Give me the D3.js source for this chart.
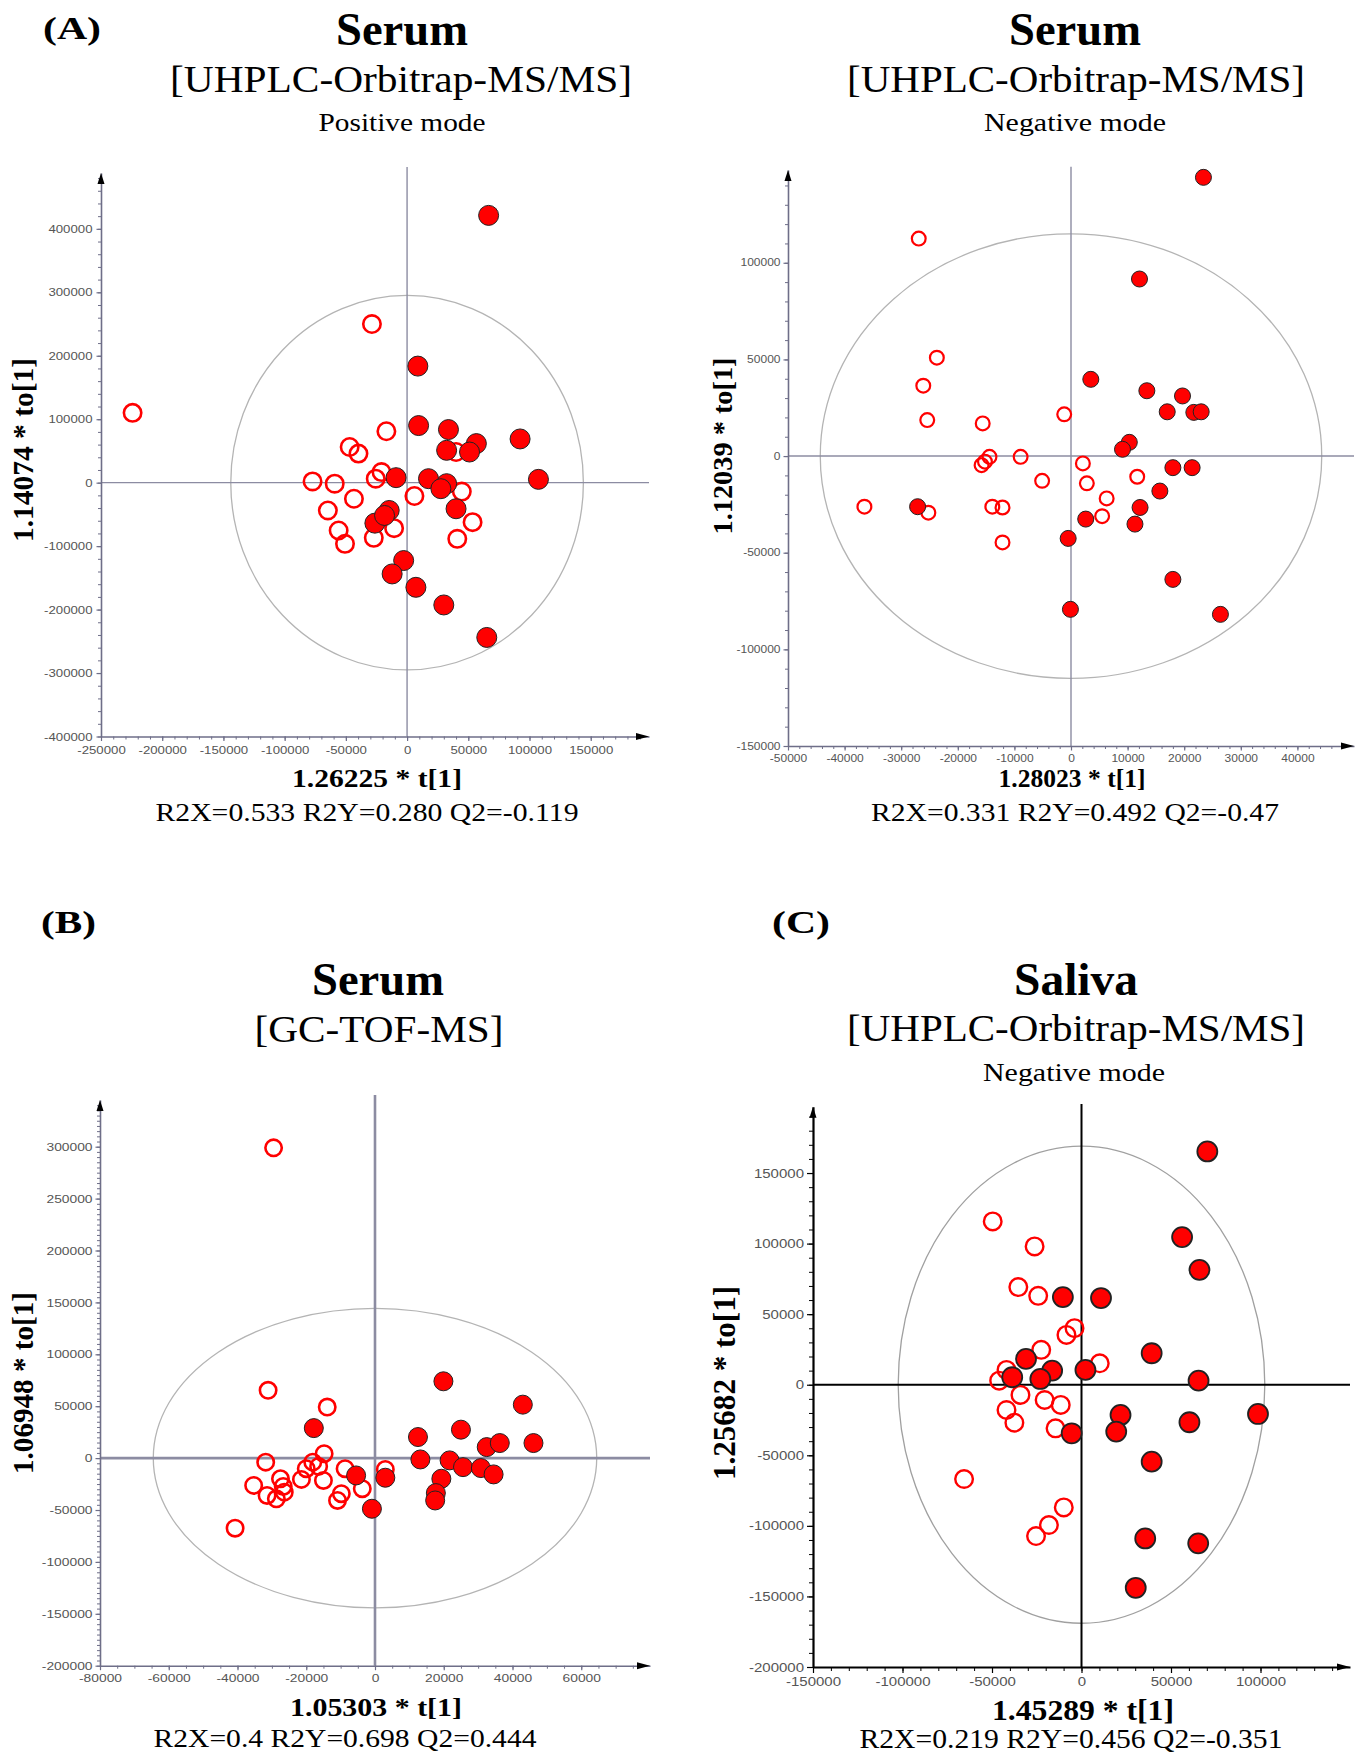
<!DOCTYPE html>
<html>
<head>
<meta charset="utf-8">
<script src="https://cdn.jsdelivr.net/npm/d3@7"></script>
<style>
    body { margin: 0; background: #fff; }
    svg { display: block; }
</style>
</head>
<body>
<svg id="fig" width="1361" height="1753"></svg>
<script>
// ---- data: [t[1], to[1]] scores ----
var serumPosOpen = [
    [-28700, 250000], [-224200, 110000], [-16900, 81000], [-46900, 56200], [-39700, 45800],
    [-20900, 16700], [-25600, 6300], [-77200, 2000], [-59100, -1600], [40000, 48300],
    [44700, -14000], [6000, -21000], [-43400, -25300], [-64700, -43800], [-55900, -75400],
    [-50700, -96400], [-27200, -86900], [-10600, -71700], [53500, -62200], [41000, -88500]
];
var serumPosFilled = [
    [66600, 421200], [8800, 183700], [9400, 90000], [33800, 83700], [56600, 61600],
    [32300, 51000], [51000, 48300], [92300, 68900], [107300, 5200], [-9000, 7900],
    [17500, 6300], [32300, -1600], [27600, -9500], [-26300, -63800], [-14600, -43800],
    [-18400, -51700], [40000, -41100], [-2800, -122700], [-12200, -143800], [7200, -164900],
    [30000, -192700], [65100, -243900]
];

var serumNegOpen = [
    [-26900, 112500], [-23700, 50900], [-26100, 36400], [-25400, 18600], [-15600, 16900],
    [-1200, 21600], [-14400, -400], [-15200, -2900], [-15800, -4700], [-8900, -400],
    [2100, -3800], [11700, -10700], [-5100, -12800], [2800, -14100], [6300, -21900],
    [-36500, -26200], [-25200, -29300], [-13900, -26200], [-12100, -26600], [5500, -31100],
    [-12100, -44700]
];
var serumNegFilled = [
    [23400, 144200], [12100, 91600], [3500, 39700], [13400, 33800], [19700, 31100],
    [17000, 22900], [21700, 22600], [23000, 22900], [10300, 7100], [9100, 3500],
    [18000, -6000], [21400, -6000], [15700, -18100], [-27100, -26200], [12200, -26600],
    [2600, -32600], [11300, -35200], [-500, -42600], [18000, -63800], [-100, -79300],
    [26400, -81900]
];

var gcOpen = [
    [-29500, 298900], [-31100, 65300], [-13900, 49200], [3000, -10900], [-31800, -3900],
    [-35300, -26300], [-27500, -19900], [-26700, -27300], [-31400, -36000], [-28700, -39200],
    [-26400, -32800], [-21400, -20500], [-20000, -10200], [-18100, -3900], [-16400, -8000],
    [-14800, 4200], [-15000, -21500], [-8700, -10200], [-3700, -29500], [-9800, -34300],
    [-10900, -40800], [-40700, -67500]
];
var gcFilled = [
    [19900, 74000], [43000, 51500], [-17800, 28900], [12500, 20300], [25000, 27400],
    [32500, 10600], [36300, 14500], [46100, 14500], [13200, -1300], [21700, -2200],
    [25600, -8700], [30800, -9600], [34500, -15700], [19300, -19900], [17700, -33700],
    [17500, -40800], [-5500, -16700], [3000, -18900], [-900, -48800]
];

var salivaOpen = [
    [-49600, 115700], [-26200, 98000], [-35300, 69200], [-24200, 63000], [-3900, 40100],
    [-8400, 35300], [-22500, 24700], [10200, 15200], [-41900, 10500], [-46000, 2900],
    [-34100, -7200], [-20600, -10800], [-11600, -14300], [-41900, -17900], [-37500, -26900],
    [-14500, -30900], [-65600, -66800], [-9900, -86900], [-18200, -99400], [-25400, -107200]
];
var salivaFilled = [
    [70300, 165300], [56200, 104600], [65900, 81400], [-10400, 62100], [10900, 61400],
    [-31000, 18300], [-16400, 10000], [2200, 10500], [39200, 22300], [65400, 2900],
    [-38700, 5300], [-23000, 4100], [-5500, -34400], [21800, -21400], [19400, -33200],
    [60300, -26600], [98600, -20700], [39200, -54500], [35600, -108900], [65200, -112400],
    [30300, -143900]
];

// Hotelling T2 ellipse half-axes [t, to]
var serumPosEllipse = [144000, 295000];
var serumNegEllipse = [44300, 115000];
var gcEllipse = [64500, 144300];
var salivaEllipse = [102400, 169000];

var serumPosXTicks = d3.range(-250000, 150001, 50000),
    serumPosYTicks = d3.range(-400000, 400001, 100000),
    serumNegXTicks = d3.range(-50000, 40001, 10000),
    serumNegYTicks = d3.range(-150000, 100001, 50000),
    gcXTicks = d3.range(-80000, 60001, 20000),
    gcYTicks = d3.range(-200000, 300001, 50000),
    salivaXTicks = d3.range(-150000, 100001, 50000),
    salivaYTicks = d3.range(-200000, 150001, 50000);

var SERIF = '"Liberation Serif", "Times New Roman", serif',
    SANS = '"Liberation Sans", Arial, sans-serif';

var svg = d3.select('#fig');

function addText( g, t ){
    var el = g.append('text')
        .text(t.text)
        .attr('font-family', SERIF)
        .attr('font-size', t.size)
        .attr('font-weight', t.bold ? 'bold' : 'normal')
        .attr('fill', '#000')
        .attr('text-anchor', t.anchor || 'middle');

    if ( t.rotate ){
        el.attr('transform', 'translate(' + t.x + ',' + t.y + ') rotate(-90)');
    }else{
        el.attr('x', t.x).attr('y', t.y);
    }
    if ( t.width ){
        el.attr('textLength', t.width).attr('lengthAdjust', 'spacingAndGlyphs');
    }
}

function drawPanel( p ){
    var g = svg.append('g'),
        x = d3.scaleLinear().domain(p.xDomain).range(p.xRange),
        y = d3.scaleLinear().domain(p.yDomain).range(p.yRange),
        left = p.xRange[0],
        right = p.xRange[1],
        bottom = p.yRange[0],
        top = p.yRange[1];

    // ellipse
    g.append('ellipse')
        .attr('cx', x(0)).attr('cy', y(0))
        .attr('rx', x(p.ellipse[0]) - x(0))
        .attr('ry', y(0) - y(p.ellipse[1]))
        .attr('fill', 'none')
        .attr('stroke', p.ellipseColor)
        .attr('stroke-width', 1.3);

    // zero lines
    g.append('line')
        .attr('x1', x(0)).attr('x2', x(0))
        .attr('y1', p.zeroTop).attr('y2', bottom)
        .attr('stroke', p.zeroColor).attr('stroke-width', p.zeroWidth);
    g.append('line')
        .attr('x1', left).attr('x2', right)
        .attr('y1', y(0)).attr('y2', y(0))
        .attr('stroke', p.zeroColor).attr('stroke-width', p.zeroWidth);

    // minor ticks
    g.append('g')
        .attr('transform', 'translate(' + left + ',0)')
        .call(d3.axisLeft(y).tickValues(d3.range(p.yDomain[0], p.yDomain[1] - 2000, p.yMinor))
            .tickSize(p.minorLen).tickFormat(''))
        .call(function( s ){ s.select('.domain').remove(); })
        .selectAll('line').attr('stroke', p.axisColor);
    g.append('g')
        .attr('transform', 'translate(0,' + bottom + ')')
        .call(d3.axisBottom(x).tickValues(d3.range(p.xDomain[0], p.xDomain[1] - 2000, p.xMinor))
            .tickSize(p.minorLen).tickFormat(''))
        .call(function( s ){ s.select('.domain').remove(); })
        .selectAll('line').attr('stroke', p.axisColor);

    // major axes
    var yAxis = g.append('g')
        .attr('transform', 'translate(' + left + ',0)')
        .call(d3.axisLeft(y).tickValues(p.yTicks).tickSize(p.majorLen).tickSizeOuter(0)
            .tickPadding(p.pad).tickFormat(String));
    var xAxis = g.append('g')
        .attr('transform', 'translate(0,' + bottom + ')')
        .call(d3.axisBottom(x).tickValues(p.xTicks).tickSize(p.majorLen).tickSizeOuter(0)
            .tickPadding(p.pad + 1).tickFormat(String));

    [yAxis, xAxis].forEach(function( a ){
        a.select('.domain').attr('stroke', p.axisColor).attr('stroke-width', p.axisWidth);
        a.selectAll('.tick line').attr('stroke', p.axisColor).attr('stroke-width', 1.2);
        a.selectAll('.tick text')
            .attr('font-family', SANS)
            .attr('font-size', p.tickFont)
            .attr('fill', '#555')
            .each(function(){
                var w = this.getComputedTextLength();
                d3.select(this).attr('textLength', w * 1.2).attr('lengthAdjust', 'spacingAndGlyphs');
            });
    });

    // arrow heads
    g.append('path')
        .attr('d', 'M' + (left - 3.5) + ',' + (top + 11) + 'L' + left + ',' + top + 'L' + (left + 3.5) + ',' + (top + 11) + 'Z')
        .attr('fill', '#000');
    g.append('path')
        .attr('d', 'M' + (right - 13) + ',' + (bottom - 3.5) + 'L' + right + ',' + bottom + 'L' + (right - 13) + ',' + (bottom + 3.5) + 'Z')
        .attr('fill', '#000');

    // points
    g.append('g').selectAll('circle')
        .data(p.open)
        .join('circle')
        .attr('cx', function( d ){ return x(d[0]); })
        .attr('cy', function( d ){ return y(d[1]); })
        .attr('r', p.r - p.ring / 2)
        .attr('fill', 'none')
        .attr('stroke', '#ff0000')
        .attr('stroke-width', p.ring);
    g.append('g').selectAll('circle')
        .data(p.filled)
        .join('circle')
        .attr('cx', function( d ){ return x(d[0]); })
        .attr('cy', function( d ){ return y(d[1]); })
        .attr('r', p.r)
        .attr('fill', '#ff0000')
        .attr('stroke', '#222')
        .attr('stroke-width', p.edge);

    p.texts.forEach(function( t ){ addText(g, t); });
}

var grey = { axisColor: '#6e6e88', zeroColor: '#8c8ca2', ellipseColor: '#b4b4b4' };

var panels = [
    Object.assign({
        xDomain: [-250000, 197600], xRange: [101, 649],
        yDomain: [-400000, 488000], yRange: [736.5, 173],
        xTicks: serumPosXTicks, yTicks: serumPosYTicks, xMinor: 10000, yMinor: 20000,
        zeroTop: 167, zeroWidth: 1.4, axisWidth: 1.6, majorLen: 4.5, minorLen: 3, pad: 4, tickFont: 11,
        ellipse: serumPosEllipse, open: serumPosOpen, filled: serumPosFilled, r: 10, ring: 2.6, edge: 1,
        texts: [
            { text: '(A)', x: 43, y: 39, size: 32, bold: true, anchor: 'start', width: 58 },
            { text: 'Serum', x: 402, y: 45, size: 46, bold: true, width: 132 },
            { text: '[UHPLC-Orbitrap-MS/MS]', x: 401, y: 92, size: 38, width: 462 },
            { text: 'Positive mode', x: 402, y: 131, size: 25, width: 167 },
            { text: '1.14074 * to[1]', x: 33, y: 450, size: 29, bold: true, rotate: true, width: 184 },
            { text: '1.26225 * t[1]', x: 377, y: 787, size: 25, bold: true, width: 170 },
            { text: 'R2X=0.533 R2Y=0.280 Q2=-0.119', x: 367, y: 821, size: 26, width: 423 }
        ]
    }, grey),
    Object.assign({
        xDomain: [-50000, 50000], xRange: [788, 1354],
        yDomain: [-150000, 148000], yRange: [746, 170],
        xTicks: serumNegXTicks, yTicks: serumNegYTicks, xMinor: 2000, yMinor: 10000,
        zeroTop: 166.7, zeroWidth: 1.4, axisWidth: 1.6, majorLen: 4.5, minorLen: 3, pad: 3, tickFont: 10,
        ellipse: serumNegEllipse, open: serumNegOpen, filled: serumNegFilled, r: 8, ring: 2.2, edge: 1,
        texts: [
            { text: 'Serum', x: 1075, y: 45, size: 46, bold: true, width: 132 },
            { text: '[UHPLC-Orbitrap-MS/MS]', x: 1076, y: 92, size: 38, width: 458 },
            { text: 'Negative mode', x: 1075, y: 131, size: 25, width: 182 },
            { text: '1.12039 * to[1]', x: 732, y: 446, size: 28, bold: true, rotate: true, width: 177 },
            { text: '1.28023 * t[1]', x: 1072, y: 787, size: 25, bold: true, width: 147 },
            { text: 'R2X=0.331 R2Y=0.492 Q2=-0.47', x: 1075, y: 821, size: 26, width: 408 }
        ]
    }, grey),
    Object.assign({
        xDomain: [-80000, 80000], xRange: [100, 650],
        yDomain: [-200000, 345000], yRange: [1665.7, 1100],
        xTicks: gcXTicks, yTicks: gcYTicks, xMinor: 5000, yMinor: 5000,
        zeroTop: 1095, zeroWidth: 2.6, axisWidth: 1.6, majorLen: 4.5, minorLen: 3, pad: 3, tickFont: 11.5,
        ellipse: gcEllipse, open: gcOpen, filled: gcFilled, r: 9.5, ring: 2.6, edge: 1,
        texts: [
            { text: '(B)', x: 41, y: 933, size: 32, bold: true, anchor: 'start', width: 55 },
            { text: 'Serum', x: 378, y: 995, size: 46, bold: true, width: 132 },
            { text: '[GC-TOF-MS]', x: 379, y: 1042, size: 37, width: 249 },
            { text: '1.06948 * to[1]', x: 33, y: 1383, size: 29, bold: true, rotate: true, width: 182 },
            { text: '1.05303 * t[1]', x: 376, y: 1716, size: 26, bold: true, width: 172 },
            { text: 'R2X=0.4 R2Y=0.698 Q2=0.444', x: 345, y: 1747, size: 26, width: 383 }
        ]
    }, grey),
    {
        xDomain: [-150000, 150000], xRange: [813, 1350],
        yDomain: [-200000, 197000], yRange: [1667, 1106.7],
        xTicks: salivaXTicks, yTicks: salivaYTicks, xMinor: 10000, yMinor: 10000,
        zeroTop: 1104, zeroWidth: 2, axisWidth: 2.2, majorLen: 6, minorLen: 4, pad: 3, tickFont: 12.5,
        axisColor: '#000', zeroColor: '#000', ellipseColor: '#a0a0a0',
        ellipse: salivaEllipse, open: salivaOpen, filled: salivaFilled, r: 10, ring: 2.4, edge: 1.8,
        texts: [
            { text: '(C)', x: 772, y: 933, size: 32, bold: true, anchor: 'start', width: 58 },
            { text: 'Saliva', x: 1076, y: 995, size: 46, bold: true, width: 124 },
            { text: '[UHPLC-Orbitrap-MS/MS]', x: 1076, y: 1041, size: 38, width: 458 },
            { text: 'Negative mode', x: 1074, y: 1081, size: 25, width: 182 },
            { text: '1.25682 * to[1]', x: 735, y: 1383, size: 31, bold: true, rotate: true, width: 194 },
            { text: '1.45289 * t[1]', x: 1083, y: 1720, size: 29, bold: true, width: 182 },
            { text: 'R2X=0.219 R2Y=0.456 Q2=-0.351', x: 1071, y: 1748, size: 27, width: 423 }
        ]
    }
];

panels.forEach(drawPanel);
</script>
</body>
</html>
